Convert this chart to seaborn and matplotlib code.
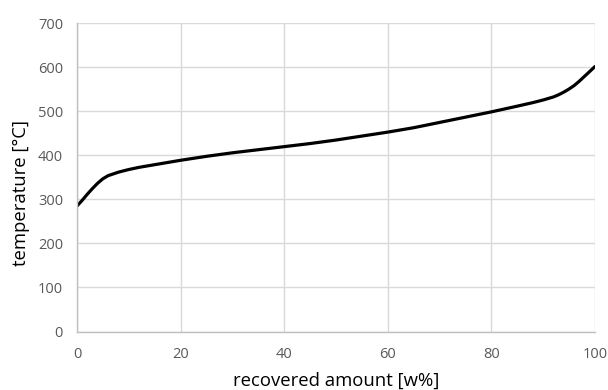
import numpy as np
import pandas as pd
import matplotlib.pyplot as plt
import seaborn as sns

# distillation curve
recovered = [0, 1, 2, 3, 4, 5, 6, 7, 8, 10, 12, 15, 20, 25, 30, 35, 40, 45, 50,
             55, 60, 65, 70, 75, 80, 85, 88, 90, 92, 93, 94, 95, 96, 97, 98, 99, 100]
temperature = [285, 298, 312, 325, 337, 347, 354, 358, 362, 368, 373, 379, 389, 398,
               406, 413, 420, 427, 435, 444, 453, 463, 475, 487, 499, 512, 520, 526,
               533, 538, 544, 551, 559, 569, 580, 591, 602]

df = pd.DataFrame({'recovered': recovered, 'temperature': temperature})

sns.set_style('white')
plt.rcParams['font.family'] = ['Open Sans', 'DejaVu Sans']

fig = plt.figure(figsize=(6.08, 3.9), dpi=100)
ax = fig.add_axes([0.1266, 0.15, 0.852, 0.79])

sns.lineplot(data=df, x='recovered', y='temperature', color='black',
             linewidth=2.3, ax=ax)

ax.set_xlim(0, 100)
ax.set_ylim(0, 700)
ax.set_xticks(np.arange(0, 101, 20))
ax.set_yticks(np.arange(0, 701, 100))
ax.grid(True, color='#d9d9d9', linewidth=1)
ax.set_axisbelow(True)
for side in ['top', 'right']:
    ax.spines[side].set_visible(False)
for side in ['left', 'bottom']:
    ax.spines[side].set_color('#bfbfbf')
    ax.spines[side].set_linewidth(1)
ax.tick_params(axis='x', length=0, labelsize=10.5, colors='#595959', pad=11)
ax.tick_params(axis='y', length=0, labelsize=10.5, colors='#595959', pad=10)

ax.set_xlabel('recovered amount [w%]', fontsize=13.3, color='black')
ax.set_ylabel('temperature [°C]', fontsize=13.3, color='black')
ax.xaxis.set_label_coords(0.5, -0.13)
ax.yaxis.set_label_coords(-0.09, 0.45)

plt.savefig('out.png', dpi=100)
